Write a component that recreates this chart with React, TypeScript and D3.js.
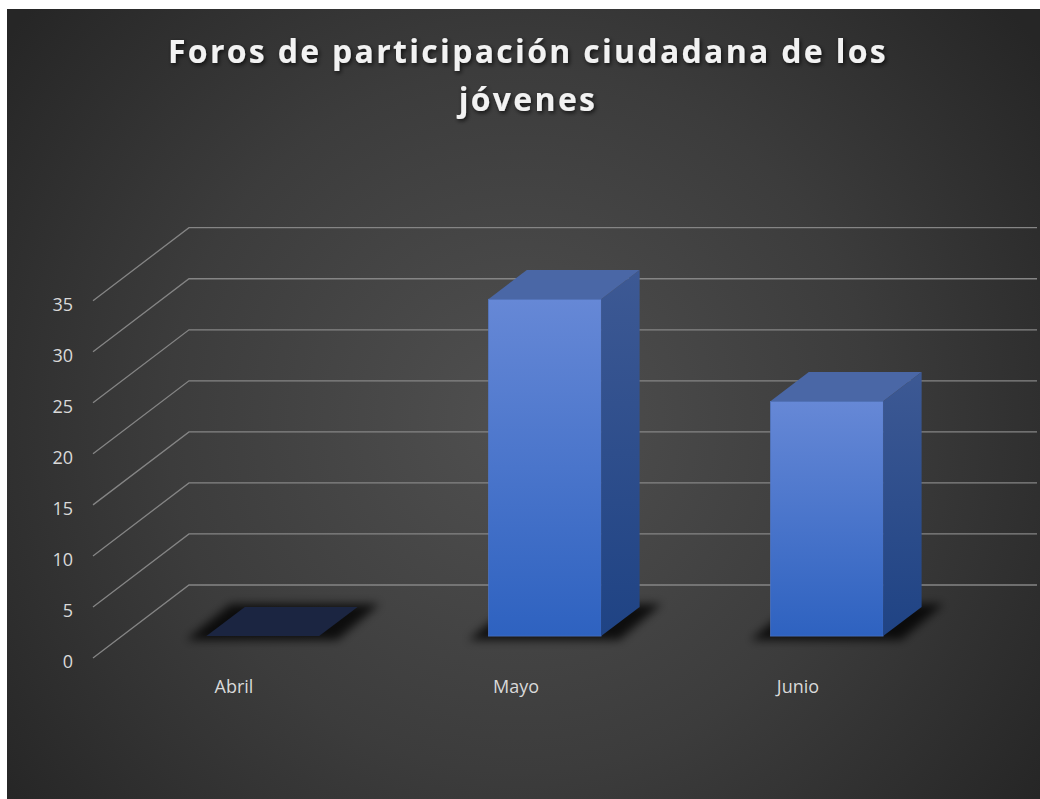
import React from "react";
import * as d3 from "d3";

const categories: string[] = ["Abril", "Mayo", "Junio"];
const values: number[] = [0, 33, 23];
const yTicks: number[] = [0, 5, 10, 15, 20, 25, 30, 35];
const titleLines: string[] = ["Foros de participación ciudadana de los", "jóvenes"];

const W = 1040;
const H = 799;
const DX = 96;
const DY = 73;
const Z0 = 0.3;
const Z1 = 0.7;

export default function App() {
  const x = d3.scaleBand<string>().domain(categories).range([93, 939]).paddingInner(0).paddingOuter(0);
  const y = d3.scaleLinear().domain([0, 35]).range([658, 300.7]);
  const bw = x.bandwidth();
  const proj = (xf: number, v: number, z: number): [number, number] => [xf + z * DX, y(v) - z * DY];
  const poly = (pts: [number, number][]) => pts.map((p) => p.join(",")).join(" ");
  const line = d3.line();

  return (
    <svg width={W} height={H} style={{ position: "absolute", left: 0, top: 0 }} xmlns="http://www.w3.org/2000/svg">
      <defs>
        <radialGradient id="bg" gradientUnits="userSpaceOnUse" cx={520} cy={420} r={640}>
          <stop offset="0" stopColor="#505050" />
          <stop offset="0.55" stopColor="#3c3c3c" />
          <stop offset="1" stopColor="#262626" />
        </radialGradient>
        <linearGradient id="front" x1="0" y1="0" x2="0" y2="1">
          <stop offset="0" stopColor="#6688d6" />
          <stop offset="1" stopColor="#2e62c0" />
        </linearGradient>
        <linearGradient id="side" x1="0" y1="0" x2="0" y2="1">
          <stop offset="0" stopColor="#3d5994" />
          <stop offset="1" stopColor="#1f4384" />
        </linearGradient>
        <filter id="blur" x="-50%" y="-50%" width="200%" height="200%">
          <feGaussianBlur stdDeviation="5" />
        </filter>
        <filter id="tshadow" x="-10%" y="-50%" width="120%" height="200%">
          <feDropShadow dx="1.5" dy="2" stdDeviation="2" floodColor="#000" floodOpacity="0.7" />
        </filter>
      </defs>

      <rect x={7} y={9} width={W - 7} height={H - 9} fill="url(#bg)" />

      {/* gridlines */}
      <g fill="none" stroke="#858585" strokeWidth={1.3}>
        {yTicks.map((t) => {
          const a = proj(93, t, 0);
          const b = proj(93, t, 1);
          const c: [number, number] = [1037, b[1]];
          return <path key={t} d={line([a, b, c]) || ""} />;
        })}
      </g>

      {/* tick labels */}
      <g fontFamily="'Open Sans', sans-serif" fontSize={18} fill="#d9d9d9" textAnchor="end">
        {yTicks.map((t) => (
          <text key={t} x={73} y={y(t) + 3} dominantBaseline="central">
            {t}
          </text>
        ))}
      </g>

      {/* shadows */}
      <g filter="url(#blur)">
        {categories.map((c, i) => {
          const x0 = (x(c) as number) + bw * 0.3;
          const x1 = x0 + bw * 0.4;
          const pts: [number, number][] = [
            [proj(x0, 0, Z0)[0] - 20, proj(x0, 0, Z0)[1] + 4],
            [proj(x1, 0, Z0)[0] + 18, proj(x1, 0, Z0)[1] + 4],
            [proj(x1, 0, Z1)[0] + 22, proj(x1, 0, Z1)[1] - 3],
            [proj(x0, 0, Z1)[0] - 14, proj(x0, 0, Z1)[1] - 3],
          ];
          return <polygon key={c + i} points={poly(pts)} fill="#000" opacity={0.8} />;
        })}
      </g>

      {/* bars */}
      {categories.map((c, i) => {
        const v = values[i];
        const x0 = (x(c) as number) + bw * 0.3;
        const x1 = x0 + bw * 0.4;
        const fTL = proj(x0, v, Z0);
        const fBR = proj(x1, 0, Z0);
        const side: [number, number][] = [proj(x1, 0, Z0), proj(x1, v, Z0), proj(x1, v, Z1), proj(x1, 0, Z1)];
        const top: [number, number][] = [proj(x0, v, Z0), proj(x1, v, Z0), proj(x1, v, Z1), proj(x0, v, Z1)];
        return (
          <g key={c}>
            {v > 0 && (
              <>
                <rect x={fTL[0]} y={fTL[1]} width={fBR[0] - fTL[0]} height={fBR[1] - fTL[1]} fill="url(#front)" stroke="#5479c9" strokeWidth={0.6} />
                <polygon points={poly(side)} fill="url(#side)" />
              </>
            )}
            <polygon points={poly(top)} fill={v > 0 ? "#4a67a6" : "#1b2541"} />
          </g>
        );
      })}

      {/* category labels */}
      <g fontFamily="'Open Sans', sans-serif" fontSize={18} fill="#d9d9d9" textAnchor="middle">
        {categories.map((c) => (
          <text key={c} x={(x(c) as number) + bw / 2} y={693}>
            {c}
          </text>
        ))}
      </g>

      {/* title */}
      <g fontFamily="'Open Sans', sans-serif" fontWeight="bold" fontSize={32} fill="#f2f2f2" textAnchor="middle" letterSpacing={2.3} filter="url(#tshadow)">
        {titleLines.map((t, i) => (
          <text key={i} x={528} y={63 + i * 48}>
            {t}
          </text>
        ))}
      </g>
    </svg>
  );
}
